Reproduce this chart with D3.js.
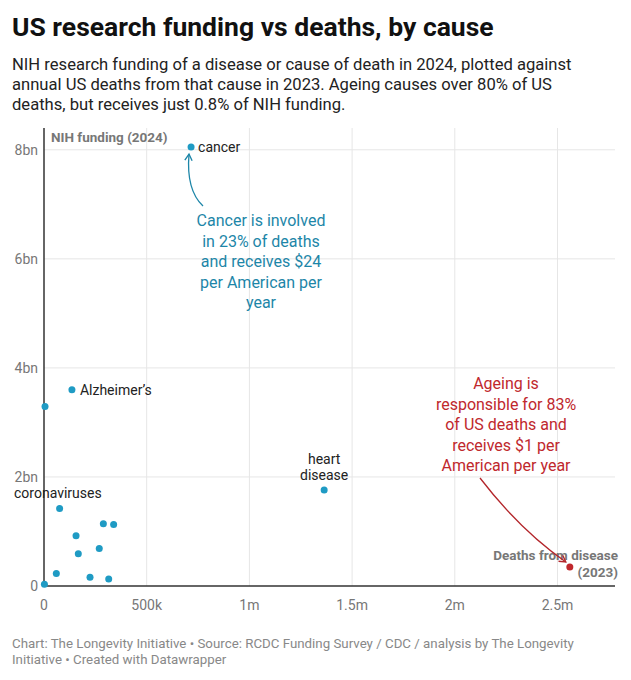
<!DOCTYPE html>
<html><head><meta charset="utf-8">
<script src="https://cdn.jsdelivr.net/npm/d3@7"></script>
<style>
body{margin:0;background:#fff;font-family:Roboto,sans-serif;}
</style></head><body>
<svg id="chart" width="631" height="680"></svg>
<script>
let deaths = [716000, 136000, 5000, 1364000, 2560000, 76000, 289000, 339000, 156000, 269000, 167000, 60000, 224000, 315000, 2000];
let funding = [8.05, 3.6, 3.29, 1.76, 0.35, 1.42, 1.14, 1.13, 0.92, 0.69, 0.59, 0.23, 0.16, 0.13, 0.03];
let highlight = [false, false, false, false, true, false, false, false, false, false, false, false, false, false, false];
let xTicks = [0, 500000, 1000000, 1500000, 2000000, 2500000];
let xTickLabels = ['0', '500k', '1m', '1.5m', '2m', '2.5m'];
let yTicks = [0, 2, 4, 6, 8];
let yTickLabels = ['0', '2bn', '4bn', '6bn', '8bn'];

let svg = d3.select('#chart');
let pad = {l: 44, r: 16, t: 130, b: 94};
let W = 631, H = 680;
let x = d3.scaleLinear().domain([0, 2780000]).range([pad.l, W - pad.r]);
let y = d3.scaleLinear().domain([0, 8.4]).range([586, 128]);

// titles
svg.append('text').attr('x', 12).attr('y', 36).text('US research funding vs deaths, by cause')
    .style('font-size', '26.5px').style('font-weight', 700).attr('fill', '#111');
let sub = ['NIH research funding of a disease or cause of death in 2024, plotted against',
    'annual US deaths from that cause in 2023. Ageing causes over 80% of US',
    'deaths, but receives just 0.8% of NIH funding.'];
svg.append('text').selectAll('tspan').data(sub).join('tspan')
    .attr('x', 12).attr('y', (d, i) => 70 + i * 20).text(d => d)
    .style('font-size', '16.6px').attr('fill', '#222');

// grid
svg.append('g').selectAll('line').data(xTicks.slice(1)).join('line')
    .attr('x1', d => x(d)).attr('x2', d => x(d)).attr('y1', 128).attr('y2', 586)
    .attr('stroke', '#e6e6e6');
svg.append('g').selectAll('line').data(yTicks.slice(1)).join('line')
    .attr('x1', pad.l).attr('x2', W - pad.r).attr('y1', d => y(d)).attr('y2', d => y(d))
    .attr('stroke', '#e6e6e6');

// axis labels
svg.append('g').selectAll('text').data(xTicks).join('text')
    .attr('x', d => x(d)).attr('y', 610).attr('text-anchor', 'middle')
    .text((d, i) => xTickLabels[i]).style('font-size', '14px').attr('fill', '#777');
svg.append('g').selectAll('text').data(yTicks).join('text')
    .attr('x', 38).attr('y', d => y(d) + 5).attr('text-anchor', 'end')
    .text((d, i) => yTickLabels[i]).style('font-size', '14px').attr('fill', '#777');

// axis lines
svg.append('line').attr('x1', pad.l).attr('x2', pad.l).attr('y1', 128).attr('y2', 586).attr('stroke', '#333').attr('stroke-width', 1.5);
svg.append('line').attr('x1', pad.l).attr('x2', W - pad.r).attr('y1', 586).attr('y2', 586).attr('stroke', '#333').attr('stroke-width', 1.5);

svg.append('text').attr('x', 51).attr('y', 142).text('NIH funding (2024)')
    .style('font-size', '13.5px').style('font-weight', 700).attr('fill', '#777');
svg.append('text').attr('text-anchor', 'end').style('font-size', '13.5px').style('font-weight', 700).attr('fill', '#777')
    .selectAll('tspan').data(['Deaths from disease', '(2023)']).join('tspan')
    .attr('x', 618).attr('y', (d, i) => 560 + i * 17).text(d => d);

// points
svg.append('g').selectAll('circle').data(deaths).join('circle')
    .attr('cx', d => x(d)).attr('cy', (d, i) => y(funding[i])).attr('r', 3.5)
    .attr('fill', (d, i) => highlight[i] ? '#c0282d' : '#1f9bc4');

// labels
let lab = (t, px, py, anchor) => svg.append('text').attr('x', px).attr('y', py).attr('text-anchor', anchor || 'start')
    .text(t).style('font-size', '14px').attr('fill', '#222');
lab('cancer', x(deaths[0]) + 7, y(funding[0]) + 5);
lab('Alzheimer’s', x(deaths[1]) + 8, y(funding[1]) + 5);
lab('heart', x(deaths[3]), y(funding[3]) - 26, 'middle');
lab('disease', x(deaths[3]), y(funding[3]) - 10, 'middle');
lab('coronaviruses', 14, 498);

// annotations
let cancerNote = ['Cancer is involved', 'in 23% of deaths', 'and receives $24', 'per American per', 'year'];
svg.append('text').attr('text-anchor', 'middle').style('font-size', '16px').attr('fill', '#1d86a8')
    .selectAll('tspan').data(cancerNote).join('tspan')
    .attr('x', 261).attr('y', (d, i) => 226 + i * 20.5).text(d => d);
let ageNote = ['Ageing is', 'responsible for 83%', 'of US deaths and', 'receives $1 per', 'American per year'];
svg.append('text').attr('text-anchor', 'middle').style('font-size', '16px').attr('fill', '#c0282d')
    .selectAll('tspan').data(ageNote).join('tspan')
    .attr('x', 506).attr('y', (d, i) => 389 + i * 20.5).text(d => d);

let defs = svg.append('defs');
[['ab', '#1d86a8'], ['ar', '#b3262b']].forEach(([id, c]) => {
    defs.append('marker').attr('id', id).attr('viewBox', '0 0 10 10').attr('refX', 8).attr('refY', 5)
        .attr('markerWidth', 7).attr('markerHeight', 7).attr('orient', 'auto-start-reverse')
        .append('path').attr('d', 'M1,1 L8,5 L1,9').attr('fill', 'none').attr('stroke', c).attr('stroke-width', 1.5);
});
svg.append('path').attr('d', `M203,206 Q186,190 189,${y(funding[0]) + 7}`)
    .attr('fill', 'none').attr('stroke', '#1d86a8').attr('stroke-width', 1.3).attr('marker-end', 'url(#ab)');
svg.append('path').attr('d', `M480,478 Q520,530 ${x(deaths[4]) - 4},${y(funding[4]) - 5}`)
    .attr('fill', 'none').attr('stroke', '#b3262b').attr('stroke-width', 1.3).attr('marker-end', 'url(#ar)');

// footer
svg.append('text').style('font-size', '13.3px').attr('fill', '#888')
    .selectAll('tspan').data(['Chart: The Longevity Initiative • Source: RCDC Funding Survey / CDC / analysis by The Longevity', 'Initiative • Created with Datawrapper']).join('tspan')
    .attr('x', 12).attr('y', (d, i) => 648 + i * 16).text(d => d);
</script></body></html>
